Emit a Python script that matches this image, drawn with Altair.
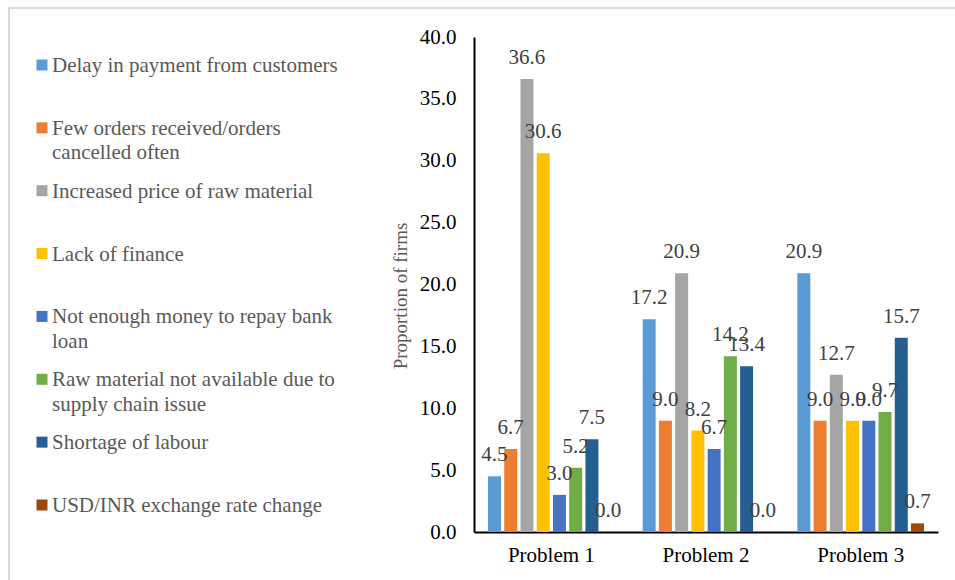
import altair as alt
import pandas as pd

problems = ["Problem 1", "Problem 2", "Problem 3"]
series = [
    "Delay in payment from customers",
    "Few orders received/orders cancelled often",
    "Increased price of raw material",
    "Lack of finance",
    "Not enough money to repay bank loan",
    "Raw material not available due to supply chain issue",
    "Shortage of labour",
    "USD/INR exchange rate change",
]
legend_labels = [
    "Delay in payment from customers",
    "Few orders received/orders\ncancelled often",
    "Increased price of raw material",
    "Lack of finance",
    "Not enough money to repay bank\nloan",
    "Raw material not available due to\nsupply chain issue",
    "Shortage of labour",
    "USD/INR exchange rate change",
]
colors = ["#5B9BD5", "#ED7D31", "#A5A5A5", "#FFC000", "#4472C4", "#70AD47", "#255E91", "#9E480E"]

values_p1 = [4.5, 6.7, 36.6, 30.6, 3.0, 5.2, 7.5, 0.0]
values_p2 = [17.2, 9.0, 20.9, 8.2, 6.7, 14.2, 13.4, 0.0]
values_p3 = [20.9, 9.0, 12.7, 9.0, 9.0, 9.7, 15.7, 0.7]

rows = []
for prob, vals in zip(problems, [values_p1, values_p2, values_p3]):
    for s, v in zip(series, vals):
        rows.append({"problem": prob, "series": s, "value": v})
df = pd.DataFrame(rows)

leg_df = pd.DataFrame({"series": series, "label": legend_labels, "idx": list(range(len(series)))})

FONT = "'Liberation Serif', 'Times New Roman', Times, serif"
W, H = 464, 495
PAD_L, PAD_T = 474, 37

color = alt.Color("series:N", scale=alt.Scale(domain=series, range=colors), legend=None)
x_scale = alt.Scale(domain=problems, paddingInner=0.16, paddingOuter=0.08)
xoff_scale = alt.Scale(domain=series, paddingInner=0.2, paddingOuter=0.1)
y_scale = alt.Scale(domain=[0, 40], nice=False)

x_enc = alt.X("problem:N", sort=problems, scale=x_scale,
              axis=alt.Axis(title=None, labelAngle=0, labelFont=FONT, labelFontSize=21,
                            labelColor="#000000", labelPadding=12, ticks=False,
                            domainColor="#000000", domainWidth=2, grid=False))
xoff = alt.XOffset("series:N", sort=series, scale=xoff_scale)
y_enc = alt.Y("value:Q", scale=y_scale,
              axis=alt.Axis(title="Proportion of firms", values=[0, 5, 10, 15, 20, 25, 30, 35, 40],
                            format=".1f", labelFont=FONT, labelFontSize=21, labelColor="#000000",
                            labelPadding=18, ticks=False, grid=False,
                            domainColor="#000000", domainWidth=2,
                            titleFont=FONT, titleFontSize=19, titleFontWeight="normal",
                            titleColor="#595959", titleX=-74, titleY=H / 2 + 11,
                            titleAngle=-90, titleBaseline="middle", titleAlign="center"))

bars = alt.Chart(df).mark_bar().encode(x=x_enc, xOffset=xoff, y=y_enc, color=color)

labels = alt.Chart(df).mark_text(font=FONT, fontSize=21, color="#404040",
                                 baseline="alphabetic", dy=-15).encode(
    x=alt.X("problem:N", sort=problems, scale=x_scale),
    xOffset=alt.XOffset("series:N", sort=series, scale=xoff_scale),
    y=alt.Y("value:Q", scale=y_scale, axis=None),
    text=alt.Text("value:Q", format=".1f"))

leg_y = alt.Y("idx:Q", scale=alt.Scale(domain=[0, 7], range=[65 - PAD_T, 505 - PAD_T]), axis=None)

leg_sq = alt.Chart(leg_df).mark_square(size=121, opacity=1).encode(
    x=alt.value(42 - PAD_L), y=leg_y, color=color)

leg_txt = alt.Chart(leg_df).mark_text(font=FONT, fontSize=21, color="#595959", align="left",
                                      baseline="alphabetic", dy=7, lineBreak="\n",
                                      lineHeight=24.5).encode(
    x=alt.value(52 - PAD_L), y=leg_y, text="label:N")

border_df = pd.DataFrame({"k": [0]})
border = alt.Chart(border_df).mark_rect(fill="transparent", stroke="#d9d9d9", strokeWidth=2).encode(
    x=alt.value(9 - PAD_L), x2=alt.value(1000), y=alt.value(8 - PAD_T), y2=alt.value(700))

chart = alt.layer(border, bars, labels, leg_sq, leg_txt).resolve_scale(
    y="independent", x="shared"
).properties(
    width=W, height=H,
    padding={"left": PAD_L, "top": PAD_T, "right": 955 - PAD_L - W, "bottom": 580 - PAD_T - H},
    autosize=alt.AutoSizeParams(type="none"),
    background="white",
).configure_view(strokeWidth=0).configure_axis(labelFont=FONT, titleFont=FONT)

chart.save("out.html", embed_options={"renderer": "svg", "actions": False})
